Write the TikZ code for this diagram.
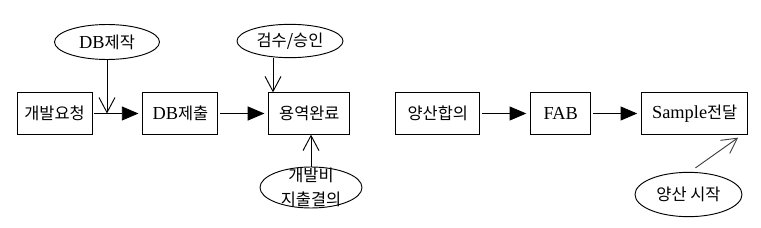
\documentclass[tikz,border=0pt]{standalone}
\usepackage{fontspec}
\setmainfont{Noto Sans CJK KR}
\newfontfamily\latin[Scale=1.12]{Liberation Serif}
\usetikzlibrary{arrows.meta, positioning, shapes.geometric}

\begin{document}
\begin{tikzpicture}[
    node distance=1.5cm,
    font=\fontsize{14}{20}\selectfont,
    box/.style={draw, line width=0.8pt, minimum height=1.24cm, inner sep=0pt, align=center},
    oval/.style={draw, ellipse, line width=0.8pt, inner sep=0pt},
    arr/.style={-{Triangle[length=0.5cm, width=0.42cm]}, line width=0.8pt,
                shorten <=0.06cm, shorten >=0.12cm},
    hint/.style={-{Straight Barb[length=0.45cm, width=0.48cm]}, line width=0.8pt}
]
    \useasboundingbox (0,0) rectangle (22.83,-6.81);

    % development flow
    \node[box, minimum width=2.25cm] (req) at (1.635,-3.405) {개발요청};
    \node[box, minimum width=2.25cm, right=of req] (submit) {{\latin DB}제출};
    \node[box, minimum width=2.43cm, right=of submit] (done) {용역완료};

    \node[oval, minimum width=3.15cm, minimum height=1.05cm] (dbmake) at (3.21,-1.26) {{\latin DB}제작};
    \node[oval, minimum width=3.18cm, minimum height=1.0cm] (check) at (8.70,-1.23) {검수/승인};
    \node[oval, minimum width=3.06cm, minimum height=1.23cm] (cost) at (9.33,-5.625) {};
    \node[align=center, inner sep=0pt] (costtext) at (cost) {개발비\\지출결의};

    \draw[arr] (req) -- (submit);
    \draw[arr] (submit) -- (done);
    \draw[hint] (dbmake) -- (dbmake |- req);
    \draw[hint] ([xshift=-0.51cm]check.south) -- ([xshift=-0.51cm]check.south |- done.north);
    \draw[hint] (cost) -- (cost |- done.south);

    % mass production flow
    \node[box, minimum width=2.52cm, right=1.35cm of done] (agree) {양산합의};
    \node[box, minimum width=1.8cm, right=of agree] (fab) {\latin FAB};
    \node[box, minimum width=3.18cm, right=of fab] (ship) {{\latin Sample}전달};

    \node[oval, minimum width=3.21cm, minimum height=1.33cm] (start) at (20.655,-5.835) {양산 시작};

    \draw[arr] (agree) -- (fab);
    \draw[arr] (fab) -- (ship);
    \draw[hint, black!75] ([shift={(0.21,0.12)}]start.north) -- ([shift={(-0.3,-0.09)}]ship.south east);
\end{tikzpicture}
\end{document}
